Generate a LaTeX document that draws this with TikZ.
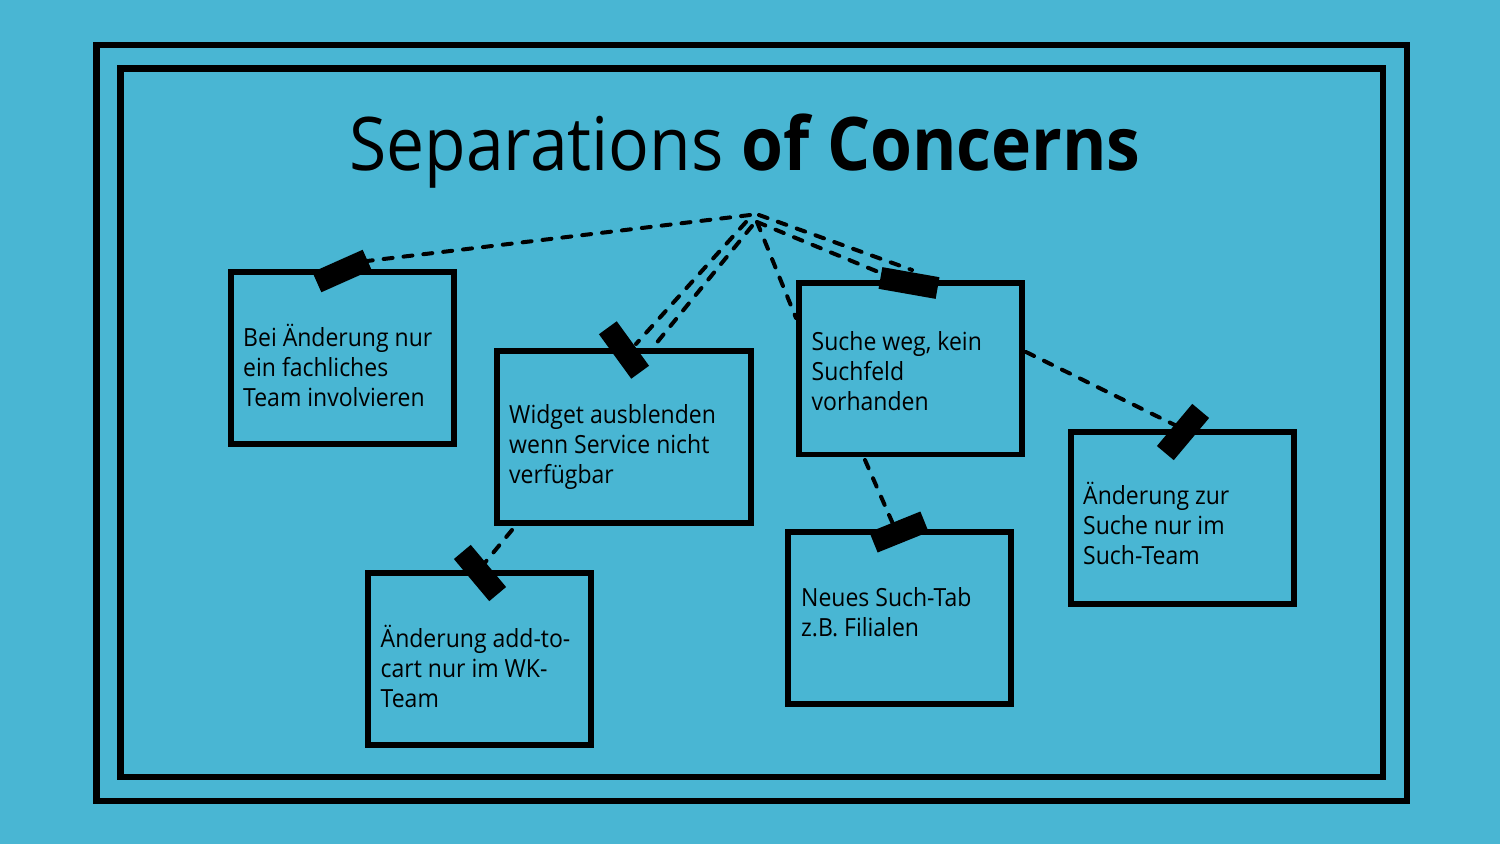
\documentclass[tikz,border=0pt]{standalone}
\usepackage{fontspec}
\setmainfont{Open Sans}
\begin{document}
\begin{tikzpicture}[x=1pt,y=-1pt,
  frame/.style={draw=black,line width=6.5pt},
  card/.style={draw=black,line width=5.7pt,outer sep=0pt,inner sep=0pt,
    minimum width=#1,minimum height=171.7pt},
  card/.default=223pt,
  tape/.style={fill=black,draw=none,minimum width=55pt,minimum height=22pt,inner sep=0pt},
  dashline/.style={draw=black,line width=4pt,line cap=round,dash pattern=on 9pt off 11pt},
  label/.style={anchor=north west,align=left,inner sep=0pt,
    font=\fontsize{25}{30}\selectfont\addfontfeature{FakeStretch=0.92}}
]
\definecolor{bg}{HTML}{49B6D3}
\newcommand{\firstline}{\rule{0pt}{24pt}}
\useasboundingbox (0,0) rectangle (1500,844);
\fill[bg] (0,0) rectangle (1500,844);

% double frame
\draw[frame] (96.7,45) rectangle (1407,801);
\draw[frame] (120.7,68.3) rectangle (1383,777);

% title
\node[inner sep=0pt,font=\fontsize{74}{80}\selectfont\addfontfeature{FakeStretch=0.916}] (title) at (745,151)
  {Separations \textbf{of Concerns}};

% cards
\node[card] (c1) at (342.6,358) {};
\node[card=254pt] (c2) at (623.9,437) {};
\node[card] (c3) at (479.5,658.9) {};
\node[card] (c4) at (910.5,368.7) {};
\node[card] (c5) at (899.5,617.9) {};
\node[card] (c6) at (1182.5,517.9) {};

\node[label] (l1) at (243,322.7) {\firstline Bei Änderung nur\\ein fachliches\\Team involvieren};
\node[label] (l2) at (509,399.3) {\firstline Widget ausblenden\\wenn Service nicht\\verfügbar};
\node[label] (l3) at (380.5,623.3) {\firstline Änderung add-to-\\cart nur im WK-\\Team};
\node[label] (l4) at (811.5,326) {\firstline Suche weg, kein\\Suchfeld\\vorhanden};
\node[label] (l5) at (801,582) {\firstline Neues Such-Tab\\z.B. Filialen};
\node[label] (l6) at (1083,480.3) {\firstline Änderung zur\\Suche nur im\\Such-Team};

% hub point and line ends
\coordinate (hub) at (754,216);
\coordinate (h1) at (750,215);
\coordinate (h2a) at (746,222);
\coordinate (h2b) at (752,226);
\coordinate (h3) at (757,222);
\coordinate (h4a) at (759,215);
\coordinate (h4b) at (757,222);
\coordinate (e2a) at (636,344);
\coordinate (e2b) at (650,351);
\coordinate (e3) at (796,318);
\coordinate (e4a) at (912,270);
\coordinate (e4b) at (893,278);
\coordinate (s5) at (512,530);
\coordinate (s6) at (865,460);
\coordinate (s7) at (1026,352);

% connectors
\draw[dashline] (h1) -- (367,261) coordinate (e1);
\draw[dashline] (h2a) -- (e2a);
\draw[dashline] (h2b) -- (e2b);
\draw[dashline] (h3) -- (e3);
\draw[dashline] (h4a) -- (e4a);
\draw[dashline] (h4b) -- (e4b);
\draw[dashline] (s5) -- (483,565) coordinate (e5);
\draw[dashline] (s6) -- (900,540) coordinate (e6);
\draw[dashline] (s7) -- (1185,430) coordinate (e7);

% tape strips
\node[tape,rotate=24] (t1) at (342,271) {};
\node[tape,rotate=-54] (t2) at (624,350) {};
\node[tape,rotate=-50] (t3) at (480,573) {};
\node[tape,minimum width=58pt,rotate=-10] (t4) at (909,283) {};
\node[tape,rotate=22] (t5) at (899,532) {};
\node[tape,rotate=50] (t6) at (1183,432) {};
\end{tikzpicture}
\end{document}
